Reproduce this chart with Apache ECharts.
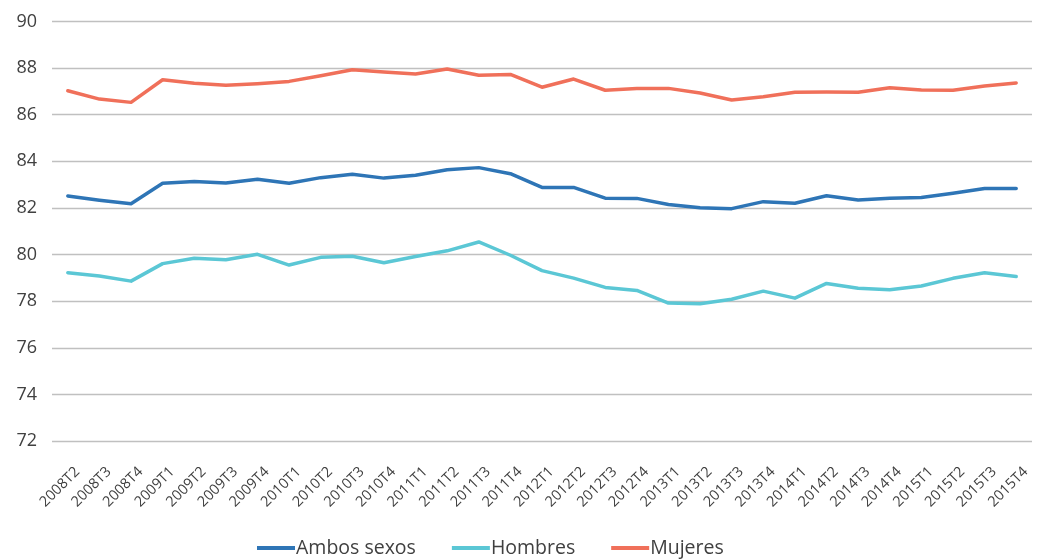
<!DOCTYPE html>
<html>
<head>
<meta charset="utf-8">
<script src="https://cdn.jsdelivr.net/npm/echarts@6/dist/echarts.min.js"></script>
<style>
html, body { margin: 0; padding: 0; background: #fff; }
#chart { width: 1043px; height: 560px; }
</style>
</head>
<body>
<div id="chart"></div>
<script>
var categories = [
    '2008T2', '2008T3', '2008T4',
    '2009T1', '2009T2', '2009T3', '2009T4',
    '2010T1', '2010T2', '2010T3', '2010T4',
    '2011T1', '2011T2', '2011T3', '2011T4',
    '2012T1', '2012T2', '2012T3', '2012T4',
    '2013T1', '2013T2', '2013T3', '2013T4',
    '2014T1', '2014T2', '2014T3', '2014T4',
    '2015T1', '2015T2', '2015T3', '2015T4'
];
var ambos = [82.51, 82.33, 82.18, 83.06, 83.13, 83.07, 83.23, 83.06, 83.30, 83.45,
    83.28, 83.40, 83.64, 83.73, 83.47, 82.88, 82.88, 82.42, 82.41, 82.15,
    82.01, 81.97, 82.27, 82.20, 82.52, 82.34, 82.42, 82.45, 82.63, 82.83, 82.83];
var hombres = [79.22, 79.08, 78.86, 79.61, 79.84, 79.78, 80.01, 79.55, 79.88, 79.93,
    79.65, 79.92, 80.16, 80.54, 79.97, 79.31, 78.99, 78.59, 78.46, 77.92,
    77.89, 78.08, 78.43, 78.13, 78.76, 78.55, 78.49, 78.65, 78.98, 79.22, 79.06];
var mujeres = [87.03, 86.67, 86.53, 87.50, 87.35, 87.26, 87.33, 87.43, 87.67, 87.93,
    87.83, 87.75, 87.96, 87.69, 87.73, 87.18, 87.53, 87.05, 87.12, 87.13,
    86.93, 86.63, 86.77, 86.96, 86.97, 86.96, 87.16, 87.06, 87.05, 87.23, 87.36];

var font = 'Open Sans';
var myChart = echarts.init(document.getElementById('chart'));

function line(name, data, color) {
    return {
        name: name,
        type: 'line',
        data: data,
        symbol: 'none',
        color: color,
        lineStyle: { width: 3.5, color: color, join: 'round', cap: 'round' }
    };
}

var option = {
    animation: false,
    grid: { left: 52, right: 11, top: 21.5, bottom: 119 },
    legend: {
        left: 252,
        top: 533,
        itemWidth: 38,
        itemHeight: 4,
        itemGap: 36,
        icon: 'rect',
        textStyle: { fontFamily: font, fontSize: 19.5, color: '#404040', padding: [0, 0, 0, -4] },
        data: ['Ambos sexos', 'Hombres', 'Mujeres']
    },
    xAxis: {
        type: 'category',
        data: categories,
        boundaryGap: true,
        axisLine: { show: false },
        axisTick: { show: false },
        axisLabel: {
            rotate: 45,
            interval: 0,
            margin: 19,
            verticalAlign: 'top',
            padding: [6, 0, 0, 0],
            fontFamily: font,
            fontSize: 14.5,
            color: '#404040'
        }
    },
    yAxis: {
        type: 'value',
        min: 72,
        max: 90,
        interval: 2,
        axisLine: { show: false },
        axisTick: { show: false },
        splitLine: { lineStyle: { color: '#c0c0c0', width: 1.3 } },
        axisLabel: {
            margin: 15,
            fontFamily: font,
            fontSize: 18,
            color: '#404040'
        }
    },
    series: [
        line('Ambos sexos', ambos, '#2e75b6'),
        line('Hombres', hombres, '#5bc7d5'),
        line('Mujeres', mujeres, '#f0705a')
    ]
};
myChart.setOption(option);
</script>
</body>
</html>
